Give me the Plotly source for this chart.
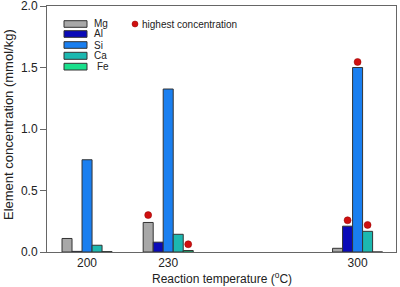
import plotly.graph_objects as go

# ---- data ----
temperatures = [200, 230, 300]
elements = ["Mg", "Al", "Si", "Ca", "Fe"]
mg = [0.11, 0.24, 0.03]
al = [0.005, 0.08, 0.21]
si = [0.75, 1.325, 1.50]
ca = [0.055, 0.144, 0.168]
fe = [0.003, 0.012, 0.0]
series = [mg, al, si, ca, fe]

highest_temp = [230, 230, 300, 300, 300]
highest_elem = ["Mg", "Fe", "Al", "Si", "Ca"]
highest_y = [0.30, 0.063, 0.258, 1.545, 0.22]

x_ticks = [200, 230, 300]
y_ticks = [0.0, 0.5, 1.0, 1.5, 2.0]
y_tick_labels = ["0.0", "0.5", "1.0", "1.5", "2.0"]

colors = ["#a8a8a8", "#0a0ab8", "#1a7ff0", "#1cb8b0", "#19e08c"]
bar_w = 3.7

# ---- figure ----
W, H = 400, 287
ml, mr, mt, mb = 47, 4, 6, 35
fig = go.Figure()

for i, (name, vals) in enumerate(zip(elements, series)):
    fig.add_trace(go.Bar(
        x=temperatures, y=vals, name=name,
        width=bar_w, offset=(i - 2.5) * bar_w,
        marker=dict(color=colors[i], line=dict(color="#333333", width=1)),
        showlegend=False,
    ))

hx = [t + (elements.index(e) - 2) * bar_w for t, e in zip(highest_temp, highest_elem)]
fig.add_trace(go.Scatter(
    x=hx, y=highest_y, mode="markers",
    marker=dict(color="#d01010", size=7, line=dict(color="#900000", width=0.5)),
    showlegend=False,
))

pw = W - ml - mr
ph = H - mt - mb

def px_x(p):
    return (p - ml) / pw

def px_y(p):
    return (H - mb - p) / ph

shapes = []
annotations = []
box_rows = [(20.7, 27.3), (30.7, 37.3), (41.7, 48.3), (52.3, 59.3), (63.3, 70.0)]
for i, name in enumerate(elements):
    y0, y1 = box_rows[i]
    shapes.append(dict(type="rect", xref="paper", yref="paper",
                       x0=px_x(64), x1=px_x(87), y0=px_y(y1), y1=px_y(y0),
                       fillcolor=colors[i], line=dict(color="#333333", width=1)))
    annotations.append(dict(xref="paper", yref="paper", x=px_x(92 if name != "Fe" else 95),
                            y=px_y((y0 + y1) / 2), text=name, showarrow=False,
                            xanchor="left", yanchor="middle",
                            font=dict(size=10, color="#222222")))
shapes.append(dict(type="circle", xref="paper", yref="paper",
                   x0=px_x(132), x1=px_x(138), y0=px_y(27), y1=px_y(21),
                   fillcolor="#d01010", line=dict(color="#900000", width=0.5)))
annotations.append(dict(xref="paper", yref="paper", x=px_x(140), y=px_y(24.5),
                        text="highest concentration", showarrow=False,
                        xanchor="left", yanchor="middle",
                        font=dict(size=10, color="#222222")))
# axis titles
annotations.append(dict(xref="paper", yref="paper", x=0.5, y=px_y(278),
                        text="Reaction temperature (<sup>o</sup>C)", showarrow=False,
                        xanchor="center", yanchor="middle",
                        font=dict(size=12, color="#222222")))
annotations.append(dict(xref="paper", yref="paper", x=px_x(8), y=px_y(125),
                        text="Element concentration (mmol/kg)", showarrow=False,
                        textangle=-90, xanchor="center", yanchor="middle",
                        font=dict(size=13, color="#222222")))

fig.update_layout(
    width=W, height=H,
    margin=dict(l=ml, r=mr, t=mt, b=mb),
    plot_bgcolor="white", paper_bgcolor="white",
    barmode="overlay",
    font=dict(family="Liberation Sans, Arial, sans-serif", size=12, color="#222222"),
    shapes=shapes, annotations=annotations,
    xaxis=dict(
        range=[185.2, 314.2], tickvals=x_ticks, ticktext=[str(t) for t in x_ticks],
        showgrid=False, zeroline=False, showline=True, linecolor="#666666", linewidth=1,
        mirror=True, ticks="", tickfont=dict(size=12), automargin=False,
        ticklabeloverflow="allow",
    ),
    yaxis=dict(
        range=[0, 2.0], tickvals=y_ticks, ticktext=y_tick_labels,
        showgrid=False, zeroline=False, showline=True, linecolor="#666666", linewidth=1,
        mirror=True, ticks="outside", ticklen=6, tickcolor="#666666",
        tickfont=dict(size=12), automargin=False, ticklabeloverflow="allow",
    ),
)

fig.write_html("out.html", config={"displayModeBar": False},
               post_script="document.body.style.margin='0';document.body.style.overflow='hidden';")
